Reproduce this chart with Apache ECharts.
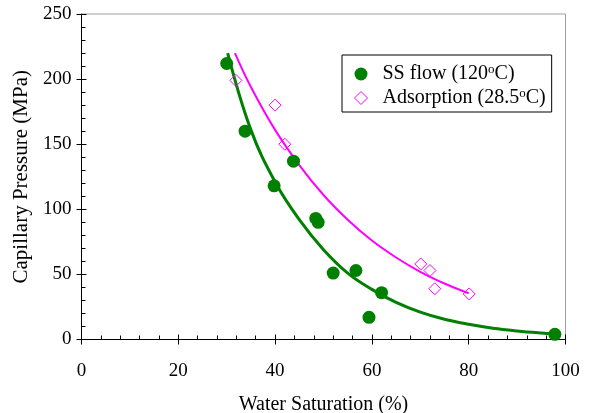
<!DOCTYPE html>
<html>
<head>
<meta charset="utf-8">
<script src="https://cdn.jsdelivr.net/npm/echarts@6/dist/echarts.min.js"></script>
<style>
  html, body { margin: 0; padding: 0; background: #fff; }
  #chart { width: 592px; height: 413px; }
</style>
</head>
<body>
<div id="chart"></div>
<script>
// Measured points
var ssFlowSat = [30, 33.8, 39.8, 43.8, 48.4, 48.9, 52, 56.7, 59.4, 62, 97.8];
var ssFlowPc  = [212, 160, 118, 137, 93, 90, 51, 53, 17, 36, 4];

var adsSat = [31.9, 40, 42, 70.1, 72, 73, 80.1];
var adsPc  = [199, 180, 150, 58, 53, 39, 35];

// Fitted trend curves
var ssTrendSat = [30.2, 35, 40, 45, 50, 55, 60, 65, 70, 75, 80, 85, 90, 95, 97.5];
var ssTrendPc  = [220, 161, 121, 92, 69, 51, 38.5, 28.5, 21, 15.5, 11.7, 8.7, 6.6, 5, 4.4];

var adsTrendSat = [31.7, 35, 40, 45, 50, 55, 60, 65, 70, 75, 80];
var adsTrendPc  = [220, 194, 161, 134, 111, 92, 76, 63, 52, 43, 35.5];

var xTicks = [0, 20, 40, 60, 80, 100];
var yTicks = [0, 50, 100, 150, 200, 250];

function pairs(xs, ys) { return xs.map(function (x, i) { return [x, ys[i]]; }); }

var FONT = '"Liberation Serif", "Times New Roman", serif';
var GREEN = '#008000';
var MAGENTA = '#ff00ff';

var chart = echarts.init(document.getElementById('chart'), null, { renderer: 'canvas' });

var xBase = {
  type: 'value', min: xTicks[0], max: xTicks[xTicks.length - 1], interval: 20,
  splitLine: { show: false }
};
var yBase = {
  type: 'value', min: yTicks[0], max: yTicks[yTicks.length - 1], interval: 50,
  splitLine: { show: false }
};

chart.setOption({
  animation: false,
  backgroundColor: '#fff',
  grid: {
    left: 81.5, right: 26.5, top: 14, bottom: 73.5,
    outerBoundsMode: 'none', containLabel: false,
    show: true, borderColor: '#a0a0a0', borderWidth: 1, backgroundColor: 'transparent'
  },
  legend: {
    data: [
      { name: 'SS flow (120°C)' },
      { name: 'Adsorption (28.5°C)', itemStyle: { color: 'rgba(255,255,255,0)', borderColor: MAGENTA, borderWidth: 1 } }
    ],
    orient: 'vertical',
    left: 342, top: 55,
    padding: [8, 6, 3, 12],
    itemGap: 2,
    itemWidth: 13, itemHeight: 13,
    borderColor: '#000', borderWidth: 1,
    backgroundColor: '#fff',
    formatter: function (name) { return name.replace('°', '{sup|o}'); },
    textStyle: {
      fontFamily: FONT, fontSize: 20, color: '#000', lineHeight: 22,
      padding: [0, 0, 0, 10],
      rich: {
        sup: { fontFamily: FONT, fontSize: 13, color: '#000', verticalAlign: 'top', lineHeight: 22 }
      }
    }
  },
  xAxis: [
    Object.assign({}, xBase, {
      position: 'bottom',
      name: 'Water Saturation (%)', nameLocation: 'middle', nameGap: 55,
      nameTextStyle: { fontFamily: FONT, fontSize: 20, color: '#000' },
      axisLine: { show: true, lineStyle: { color: '#000', width: 1 } },
      axisTick: { show: true, inside: false, length: 5, lineStyle: { color: '#000' } },
      axisLabel: { fontFamily: FONT, fontSize: 19, color: '#000', margin: 22 }
    }),
    Object.assign({}, xBase, {
      position: 'bottom',
      axisLine: { show: false },
      axisTick: { show: true, inside: true, length: 5, lineStyle: { color: '#000' } },
      minorTick: { show: true, splitNumber: 5, length: 4, lineStyle: { color: '#000' } },
      axisLabel: { show: false }
    })
  ],
  yAxis: [
    Object.assign({}, yBase, {
      position: 'left',
      name: 'Capillary Pressure (MPa)', nameLocation: 'middle', nameGap: 48,
      nameTextStyle: { fontFamily: FONT, fontSize: 21, color: '#000' },
      axisLine: { show: true, lineStyle: { color: '#000', width: 1 } },
      axisTick: { show: true, inside: false, length: 5, lineStyle: { color: '#000' } },
      axisLabel: { fontFamily: FONT, fontSize: 19, color: '#000', margin: 10 }
    }),
    Object.assign({}, yBase, {
      position: 'left',
      axisLine: { show: false },
      axisTick: { show: true, inside: true, length: 5, lineStyle: { color: '#000' } },
      minorTick: { show: true, splitNumber: 5, length: 4, lineStyle: { color: '#000' } },
      axisLabel: { show: false }
    })
  ],
  series: [
    {
      type: 'line', smooth: 0.4, showSymbol: false, silent: true,
      data: pairs(ssTrendSat, ssTrendPc),
      lineStyle: { color: GREEN, width: 3 }, z: 2
    },
    {
      type: 'line', smooth: 0.4, showSymbol: false, silent: true,
      data: pairs(adsTrendSat, adsTrendPc),
      lineStyle: { color: MAGENTA, width: 2 }, z: 2
    },
    {
      name: 'SS flow (120°C)', type: 'scatter',
      symbol: 'circle', symbolSize: 13,
      data: pairs(ssFlowSat, ssFlowPc),
      itemStyle: { color: GREEN, opacity: 1 }, z: 3
    },
    {
      name: 'Adsorption (28.5°C)', type: 'scatter',
      symbol: 'diamond', symbolSize: 12,
      data: pairs(adsSat, adsPc),
      itemStyle: { color: 'rgba(255,255,255,0)', borderColor: MAGENTA, borderWidth: 1, opacity: 1 }, z: 3
    }
  ]
});
</script>
</body>
</html>
